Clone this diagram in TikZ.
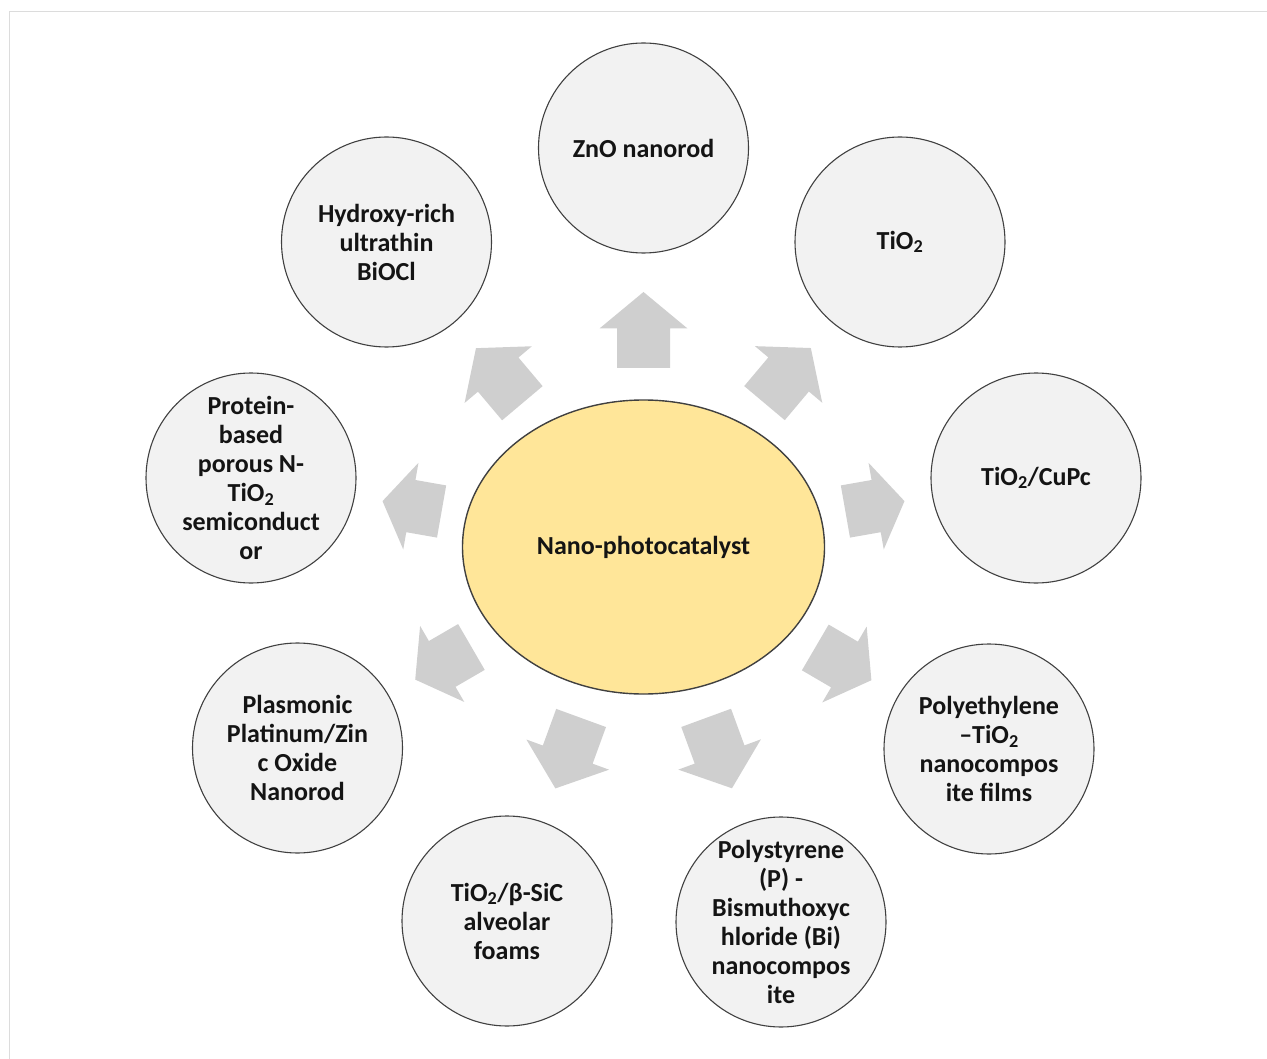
\documentclass[tikz,border=0pt]{standalone}
\usepackage{fontspec}
\setmainfont{Carlito}
\usetikzlibrary{shapes.geometric,calc}

\definecolor{coreyellow}{RGB}{255,230,153}
\definecolor{bubblefill}{RGB}{242,242,242}
\definecolor{edgegray}{RGB}{64,64,64}
\definecolor{arrowgray}{RGB}{207,207,207}
\definecolor{framegray}{RGB}{220,220,220}
\definecolor{inkblack}{RGB}{20,20,20}

\tikzset{
  labeltext/.style={align=center, text=inkblack,
    font=\fontsize{26}{29}\selectfont\bfseries},
  bubble/.style={circle, draw=edgegray, line width=1.1pt, fill=bubblefill,
    minimum size=210pt, inner sep=0pt},
  core/.style={ellipse, draw=edgegray, line width=1.4pt, fill=coreyellow,
    minimum width=362pt, minimum height=294pt, inner sep=0pt, labeltext},
  pics/blockarrow/.style={code={
    \pgfmathsetmacro\headlen{0.48*#1}
    \fill[arrowgray] (0,-26.5) -- ({#1-\headlen},-26.5) -- ({#1-\headlen},-44)
      -- (#1,0) -- ({#1-\headlen},44) -- ({#1-\headlen},26.5) -- (0,26.5) -- cycle;
  }}
}

% block arrow from the central ellipse towards a bubble:
% #1 target node, #2 distance of the tail from the centre, #3 arrow length
\newcommand\spokearrow[3]{%
  \path let \p1=($(#1)-(core)$), \n1={atan2(\y1,\x1)} in
    ($(core)!#2pt!(#1)$) pic[rotate=\n1]{blockarrow=#3};
}

\begin{document}
\begin{tikzpicture}[x=1pt, y=-1pt]
  \useasboundingbox (0,0) rectangle (1267,1059);
  \draw[framegray, line width=1pt] (9,1059) -- (9,12) -- (1267,12);

  % centre
  \node[core] (core) at (643.5,547) {Nano-photocatalyst};

  % surrounding bubbles
  \node[bubble] (zno)  at (643.5,148) {};
  \node[bubble] (tio)  at (900,242)   {};
  \node[bubble] (cupc) at (1036,478)  {};
  \node[bubble] (pe)   at (989,749)   {};
  \node[bubble] (ps)   at (781,922)   {};
  \node[bubble] (sic)  at (507,921)   {};
  \node[bubble] (pt)   at (297.5,748) {};
  \node[bubble] (prot) at (251,478)   {};
  \node[bubble] (bioc) at (386.5,242) {};

  \node[labeltext] (zno-t)  at (zno)  {ZnO nanorod};
  \node[labeltext] (tio-t)  at (tio)  {TiO\textsubscript{2}};
  \node[labeltext] (cupc-t) at (cupc) {TiO\textsubscript{2}/CuPc};
  \node[labeltext] (pe-t)   at (pe)   {Polyethylene\\–TiO\textsubscript{2}\\nanocompos\\ite films};
  \node[labeltext] (ps-t)   at (ps)   {Polystyrene\\(P) -\\Bismuthoxyc\\hloride (Bi)\\nanocompos\\ite};
  \node[labeltext] (sic-t)  at (sic)  {TiO\textsubscript{2}/β-SiC\\alveolar\\foams};
  \node[labeltext] (pt-t)   at (pt)   {Plasmonic\\Platinum/Zin\\c Oxide\\Nanorod};
  \node[labeltext] (prot-t) at (prot) {Protein-\\based\\porous N-\\TiO\textsubscript{2}\\semiconduct\\or};
  \node[labeltext] (bioc-t) at (bioc) {Hydroxy-rich\\ultrathin\\BiOCl};

  % arrows pointing outwards
  \spokearrow{zno}{179}{76}
  \spokearrow{tio}{188}{72}
  \spokearrow{cupc}{205}{60}
  \spokearrow{pe}{199}{65}
  \spokearrow{ps}{182}{75}
  \spokearrow{sic}{182}{75}
  \spokearrow{pt}{199}{65}
  \spokearrow{prot}{205}{60}
  \spokearrow{bioc}{188}{72}
\end{tikzpicture}
\end{document}
